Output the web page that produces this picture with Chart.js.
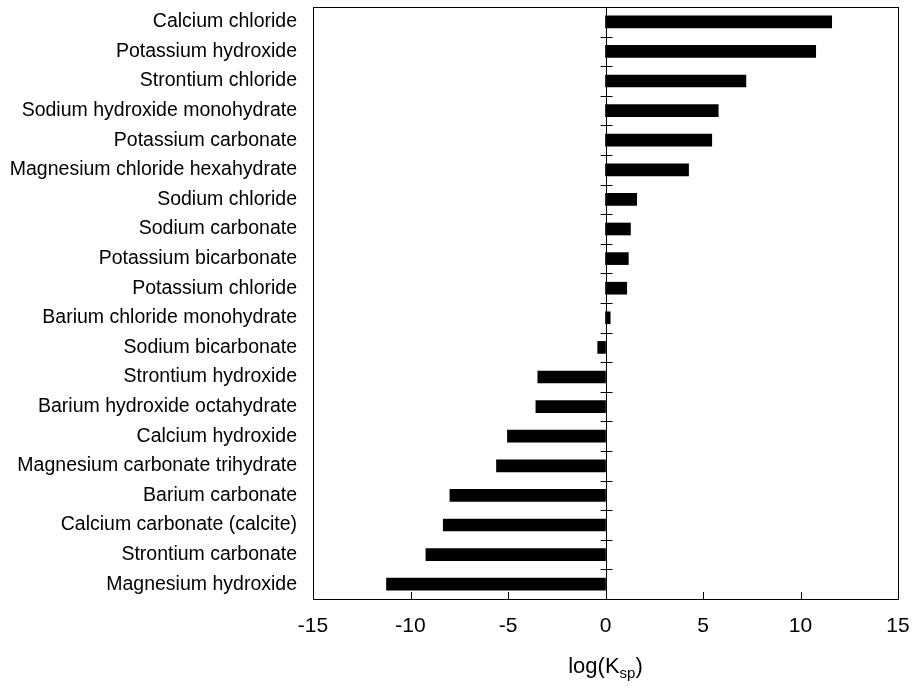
<!DOCTYPE html>
<html>
<head>
<meta charset="utf-8">
<script src="https://cdn.jsdelivr.net/npm/chart.js@4"></script>
<style>
  html, body { margin: 0; padding: 0; background: #fff; }
  canvas { display: block; }
</style>
</head>
<body>
<canvas id="ksp" width="913" height="691"></canvas>
<script>
// ================================
// DATA
// ================================
const salts = [
    "Calcium chloride",
    "Potassium hydroxide",
    "Strontium chloride",
    "Sodium hydroxide monohydrate",
    "Potassium carbonate",
    "Magnesium chloride hexahydrate",
    "Sodium chloride",
    "Sodium carbonate",
    "Potassium bicarbonate",
    "Potassium chloride",
    "Barium chloride monohydrate",
    "Sodium bicarbonate",
    "Strontium hydroxide",
    "Barium hydroxide octahydrate",
    "Calcium hydroxide",
    "Magnesium carbonate trihydrate",
    "Barium carbonate",
    "Calcium carbonate (calcite)",
    "Strontium carbonate",
    "Magnesium hydroxide"
];

const logKsp = [
    11.6, 10.78, 7.2, 5.78, 5.45, 4.26, 1.6, 1.28, 1.17, 1.09,
    0.24, -0.4, -3.47, -3.57, -5.03, -5.59, -7.98, -8.32, -9.21, -11.23
];

const xTicks = [-15, -10, -5, 0, 5, 10, 15];

const FONT = '"Liberation Sans", Arial, sans-serif';

// ================================
// FRAME, ZERO LINE, TICK MARKS, AXIS TITLE
// ================================
const framePlugin = {
    id: "frame",
    afterDatasetsDraw(chart) {
        const ctx = chart.ctx;
        const area = chart.chartArea;
        const xs = chart.scales.x;
        const ys = chart.scales.y;
        const x0 = Math.round(xs.getPixelForValue(0)) + 0.5;

        ctx.save();
        ctx.strokeStyle = "#000";
        ctx.lineWidth = 1;

        // box round the plot
        ctx.strokeRect(Math.round(area.left) + 0.5, Math.round(area.top) + 0.5,
            Math.round(area.right - area.left), Math.round(area.bottom - area.top));

        // zero line
        ctx.beginPath();
        ctx.moveTo(x0, area.top);
        ctx.lineTo(x0, area.bottom);
        ctx.stroke();

        // category ticks crossing the zero line
        ctx.beginPath();
        for (let i = 0; i <= salts.length; i++) {
            const y = Math.round(ys.getPixelForValue(i - 0.5)) + 0.5;
            ctx.moveTo(x0 - 6, y);
            ctx.lineTo(x0 + 6, y);
        }
        ctx.stroke();

        // value ticks pointing up from the bottom axis
        ctx.beginPath();
        xTicks.forEach(v => {
            const x = Math.round(xs.getPixelForValue(v)) + 0.5;
            ctx.moveTo(x, area.bottom);
            ctx.lineTo(x, area.bottom - 7);
        });
        ctx.stroke();

        // axis title with subscript
        const big = "22px " + FONT;
        const small = "15px " + FONT;
        ctx.fillStyle = "#000";
        ctx.textBaseline = "alphabetic";
        ctx.textAlign = "left";
        ctx.font = big;
        const w1 = ctx.measureText("log(K").width;
        const w3 = ctx.measureText(")").width;
        ctx.font = small;
        const w2 = ctx.measureText("sp").width;
        const cx = (area.left + area.right) / 2;
        let x = cx - (w1 + w2 + w3) / 2;
        const base = 673;
        ctx.font = big;
        ctx.fillText("log(K", x, base);
        x += w1;
        ctx.font = small;
        ctx.fillText("sp", x, base + 5);
        x += w2;
        ctx.font = big;
        ctx.fillText(")", x, base);
        ctx.restore();
    }
};

// ================================
// PLOT BAR CHART
// ================================
function plotChart(canvasId) {
    const ctx = document.getElementById(canvasId).getContext("2d");

    new Chart(ctx, {
        type: "bar",
        data: {
            labels: salts,
            datasets: [{
                data: logKsp,
                backgroundColor: "#000",
                borderWidth: 0,
                barThickness: 12
            }]
        },
        options: {
            indexAxis: "y",
            responsive: false,
            animation: false,
            events: [],
            layout: { padding: { top: 7, right: 15, left: 0, bottom: 0 } },
            plugins: {
                legend: { display: false },
                tooltip: { enabled: false }
            },
            scales: {
                x: {
                    min: -15,
                    max: 15,
                    afterBuildTicks: s => { s.ticks = xTicks.map(v => ({ value: v })); },
                    ticks: { color: "#000", font: { family: FONT, size: 21 }, padding: 15, maxRotation: 0 },
                    grid: { display: false, drawTicks: false },
                    border: { display: false },
                    afterFit: s => { s.height = 92; s.paddingLeft = 0; s.paddingRight = 0; }
                },
                y: {
                    ticks: { color: "#000", font: { family: FONT, size: 19.5 }, padding: 16, autoSkip: false },
                    grid: { display: false, drawTicks: false },
                    border: { display: false },
                    afterFit: s => { s.width = 313; s.paddingTop = 0; s.paddingBottom = 0; }
                }
            }
        },
        plugins: [framePlugin]
    });
}

plotChart("ksp");
</script>
</body>
</html>
